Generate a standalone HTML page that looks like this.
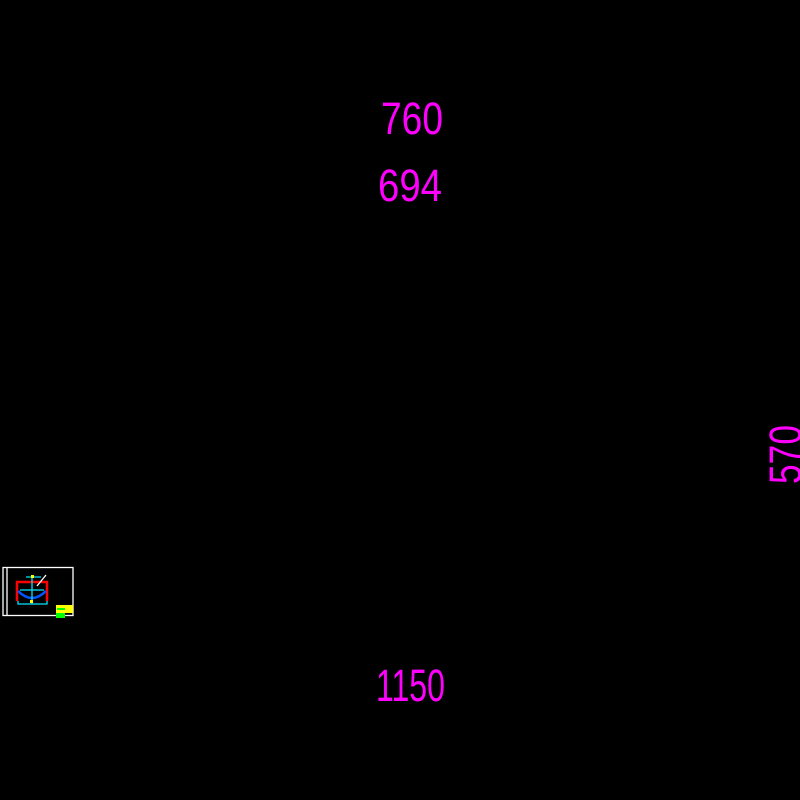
<!DOCTYPE html>
<html><head><style>html,body{margin:0;padding:0;background:#000;width:800px;height:800px;overflow:hidden}</style></head>
<body>
<svg width="800" height="800" viewBox="0 0 800 800" xmlns="http://www.w3.org/2000/svg">
<rect width="800" height="800" fill="#000"/>
<g font-family="'DejaVu Sans ExtraLight', 'Liberation Sans', sans-serif" font-size="45" fill="#ff00ff">
<text x="381" y="134" textLength="62" lengthAdjust="spacingAndGlyphs">760</text>
<text x="378" y="201" textLength="64" lengthAdjust="spacingAndGlyphs">694</text>
<text x="376" y="701" textLength="69" lengthAdjust="spacingAndGlyphs">1150</text>
<text transform="translate(801,484) rotate(-90)" x="0" y="0" textLength="59" lengthAdjust="spacingAndGlyphs">570</text>
</g>
<g fill="none" stroke-width="1.3">
<rect x="3" y="567.5" width="70" height="48" stroke="#fff"/>
<line x1="7" y1="568" x2="7" y2="615" stroke="#fff"/>
<path d="M17,601 V582 H47 V601" stroke="#ff0000" stroke-width="2.5"/>
<path d="M18,591 Q32,605 46,591" stroke="#0055ff" stroke-width="2.5"/>
<path d="M26,577 H41 M32,577 V604 M18,601 V604 H47 V601 M20,590 H44" stroke="#00e5ff"/>
<line x1="37" y1="586" x2="46" y2="575" stroke="#fff"/>
</g>
<rect x="31" y="575" width="3" height="3" fill="#ffff00"/>
<rect x="30" y="600" width="3" height="3" fill="#ffff00"/>
<rect x="56" y="605" width="17" height="8" fill="#ffff00"/>
<rect x="57" y="608" width="8" height="2" fill="#00ff00"/>
<rect x="56" y="613" width="9" height="5" fill="#00ff00"/>
</svg>
</body></html>
